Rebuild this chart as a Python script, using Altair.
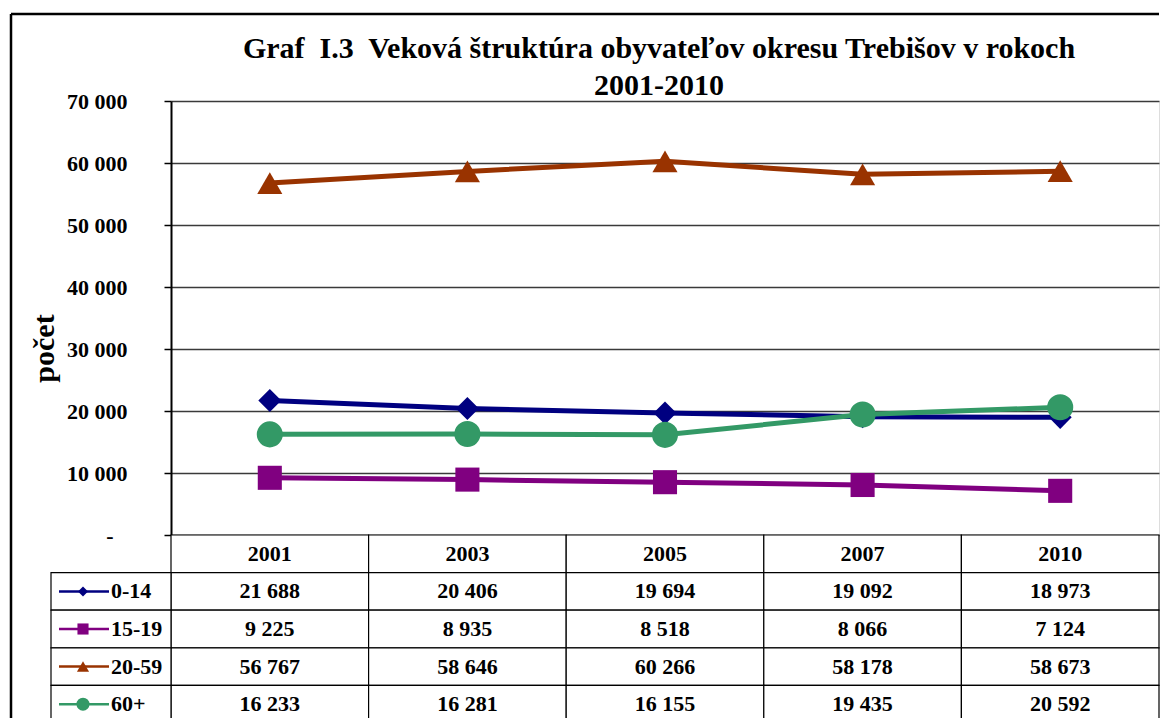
import altair as alt
import pandas as pd

# ---------------- data ----------------
years = ["2001", "2003", "2005", "2007", "2010"]
groups = ["0-14", "15-19", "20-59", "60+"]
v_0_14 = [21688, 20406, 19694, 19092, 18973]
v_15_19 = [9225, 8935, 8518, 8066, 7124]
v_20_59 = [56767, 58646, 60266, 58178, 58673]
v_60_plus = [16233, 16281, 16155, 19435, 20592]
series_values = [v_0_14, v_15_19, v_20_59, v_60_plus]
y_ticks = [0, 10000, 20000, 30000, 40000, 50000, 60000, 70000]
title_lines = ["Graf\u00a0 I.3\u00a0 Veková štruktúra obyvateľov okresu Trebišov v rokoch", "2001-2010"]
y_title = "počet"
header_key = "hdr"

# ---------------- styles ----------------
colors = ["#000080", "#800080", "#993300", "#339966"]
shapes = ["diamond", "square", "triangle-up", "circle"]
marker_sizes = [530, 680, 690, 680]
key_sizes = [100, 170, 160, 150]
FONT = "Liberation Serif"
W, H = 988, 434
ROW_H = 37.6
TABLE_RANGE = [H, H + ROW_H * 5]
KEY_RANGE = [-120, 0]

long_df = pd.DataFrame(
    [{"group": g, "year": y, "value": v}
     for g, vals in zip(groups, series_values)
     for y, v in zip(years, vals)]
)
rows = [header_key] + groups
header_df = pd.DataFrame({"row": [header_key] * len(years), "year": years})
cells_df = pd.DataFrame([{"row": r, "year": y} for r in rows for y in years])
legend_df = pd.DataFrame({"group": groups, "k": ["key"] * len(groups)})
dummy = pd.DataFrame({"a": [0]})

x_point = alt.Scale(type="point", domain=years, padding=0.5)
x_band = alt.Scale(type="band", domain=years, paddingInner=0, paddingOuter=0)
y_rows = alt.Scale(type="band", domain=rows, range=TABLE_RANGE, paddingInner=0, paddingOuter=0)
key_band = alt.Scale(type="band", domain=["key"], range=KEY_RANGE, paddingInner=0, paddingOuter=0)
key_point = alt.Scale(type="point", domain=["key"], range=KEY_RANGE, padding=0.5)
color_scale = alt.Scale(domain=groups, range=colors)
shape_scale = alt.Scale(domain=groups, range=shapes)

y_axis = alt.Axis(
    values=y_ticks,
    grid=True,
    gridColor="#3a3a3a",
    gridWidth=1.5,
    labelExpr="datum.value == 0 ? '-' : replace(format(datum.value, ','), ',', ' ')",
    labelFont=FONT,
    labelFontSize=22,
    labelFontWeight="bold",
    labelColor="black",
    labelPadding={"condition": {"test": "datum.value == 0", "value": 51}, "value": 37},
    tickSize=7,
    tickColor="black",
    tickWidth=1.5,
    domainColor="black",
    domainWidth=2,
    title=y_title,
    titleFont=FONT,
    titleFontSize=30,
    titleFontWeight="bold",
    titleColor="black",
    titleX=-112,
    titleY=247,
)

lines = alt.Chart(long_df).mark_line(strokeWidth=5).encode(
    x=alt.X("year:O", scale=x_point, axis=None),
    y=alt.Y("value:Q", scale=alt.Scale(domain=[0, 70000], nice=False), axis=y_axis),
    color=alt.Color("group:N", scale=color_scale, legend=None),
)

points = alt.Chart(long_df).mark_point(filled=True, opacity=1).encode(
    x=alt.X("year:O", scale=x_point, axis=None),
    y=alt.Y("value:Q", scale=alt.Scale(domain=[0, 70000], nice=False), axis=None),
    color=alt.Color("group:N", scale=color_scale, legend=None),
    shape=alt.Shape("group:N", scale=shape_scale, legend=None),
    size=alt.Size("group:N", scale=alt.Scale(domain=groups, range=marker_sizes), legend=None),
)

cells = alt.Chart(cells_df).mark_rect(fill="white", stroke="black", strokeWidth=1.2).encode(
    x=alt.X("year:O", scale=x_band, axis=None),
    y=alt.Y("row:N", scale=y_rows, axis=None),
)

key_cells = alt.Chart(legend_df).mark_rect(fill="white", stroke="black", strokeWidth=1.2).encode(
    x=alt.X("k:N", scale=key_band, axis=None),
    y=alt.Y("group:N", scale=y_rows, axis=None),
)

text_style = dict(font=FONT, fontSize=22, fontWeight="bold", color="black", baseline="middle")

header_text = alt.Chart(header_df).mark_text(**text_style).encode(
    x=alt.X("year:O", scale=x_point, axis=None),
    y=alt.Y("row:N", scale=y_rows, bandPosition=0.5, axis=None),
    text="year:N",
)

value_text = alt.Chart(long_df).transform_calculate(
    label="replace(format(datum.value, ','), ',', ' ')"
).mark_text(**text_style).encode(
    x=alt.X("year:O", scale=x_point, axis=None),
    y=alt.Y("group:N", scale=y_rows, bandPosition=0.5, axis=None),
    text="label:N",
)

key_lines = alt.Chart(legend_df).mark_rule(strokeWidth=2.5, xOffset=-52, x2Offset=-2).encode(
    x=alt.X("k:N", scale=key_point, axis=None),
    x2="k:N",
    y=alt.Y("group:N", scale=y_rows, bandPosition=0.5, axis=None),
    color=alt.Color("group:N", scale=color_scale, legend=None),
)

key_marks = alt.Chart(legend_df).mark_point(filled=True, opacity=1, xOffset=-28).encode(
    x=alt.X("k:N", scale=key_point, axis=None),
    y=alt.Y("group:N", scale=y_rows, bandPosition=0.5, axis=None),
    color=alt.Color("group:N", scale=color_scale, legend=None),
    shape=alt.Shape("group:N", scale=shape_scale, legend=None),
    size=alt.Size("group:N", scale=alt.Scale(domain=groups, range=key_sizes), legend=None),
)

key_text = alt.Chart(legend_df).mark_text(align="left", **text_style).encode(
    x=alt.X("k:N", scale=key_point, axis=None),
    y=alt.Y("group:N", scale=y_rows, bandPosition=0.5, axis=None),
    text="group:N",
)

border_top = alt.Chart(dummy).mark_rule(color="black", strokeWidth=2.5).encode(
    x=alt.value(-160), x2=alt.value(W), y=alt.value(-87)
)
border_left = alt.Chart(dummy).mark_rule(color="black", strokeWidth=2.5).encode(
    x=alt.value(-160), y=alt.value(-87), y2=alt.value(618)
)

chart = alt.layer(
    border_top, border_left,
    lines, points,
    cells, key_cells,
    header_text, value_text,
    key_lines, key_marks, key_text,
).resolve_scale(
    x="independent", y="independent", size="independent"
).properties(
    width=W,
    height=H,
    padding={"left": 1, "top": 4, "right": 0, "bottom": 0},
    title=alt.TitleParams(
        text=title_lines,
        font=FONT,
        fontSize=30,
        fontWeight="bold",
        color="black",
        lineHeight=37,
        anchor="middle",
        dx=-6,
        offset=-88,
    ),
).configure_view(
    stroke="black", strokeWidth=2
).configure(background="white")

chart.save("out.html", embed_options={"renderer": "svg", "actions": False})
